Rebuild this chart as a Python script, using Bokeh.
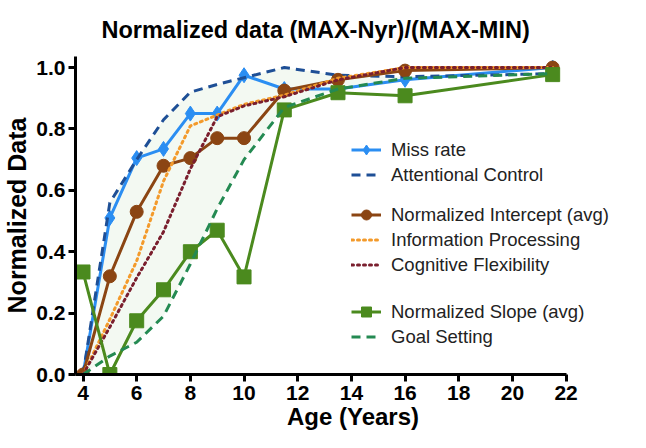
from bokeh.plotting import figure
from bokeh.models import Legend, LegendItem, FixedTicker, NumeralTickFormatter
from bokeh.embed import file_html
from bokeh.resources import INLINE

ages = [4, 5, 6, 7, 8, 9, 10, 11.5, 13.5, 16, 21.5]
miss_rate = [0.0, 0.51, 0.705, 0.735, 0.85, 0.85, 0.975, 0.93, 0.93, 0.96, 1.0]
attentional_control = [0.0, 0.56, 0.70, 0.83, 0.92, 0.945, 0.967, 1.0, 0.975, 0.97, 0.98]
norm_intercept = [0.0, 0.32, 0.53, 0.68, 0.705, 0.77, 0.77, 0.925, 0.96, 0.99, 1.0]
info_processing = [0.0, 0.18, 0.37, 0.63, 0.81, 0.845, 0.88, 0.91, 0.965, 1.0, 1.0]
cog_flexibility = [0.0, 0.155, 0.315, 0.465, 0.67, 0.84, 0.875, 0.905, 0.96, 1.0, 1.0]
norm_slope = [0.334, 0.0, 0.175, 0.276, 0.40, 0.47, 0.318, 0.862, 0.918, 0.908, 0.977]
goal_setting = [0.0, 0.06, 0.105, 0.19, 0.36, 0.54, 0.70, 0.87, 0.93, 0.965, 0.98]

x_ticks = [4, 6, 8, 10, 12, 14, 16, 18, 20, 22]
y_ticks = [0.0, 0.2, 0.4, 0.6, 0.8, 1.0]

FONT = "Liberation Sans"

p = figure(width=630, height=432, x_range=(3.72, 24.4), y_range=(0, 1.036),
           output_backend="svg", toolbar_location=None,
           min_border_left=75, min_border_right=0, min_border_top=56, min_border_bottom=56,
           title="Normalized data (MAX-Nyr)/(MAX-MIN)")
p.outline_line_color = None
p.xgrid.visible = False
p.ygrid.visible = False
p.background_fill_color = "white"

p.title.text_font = FONT
p.title.text_font_size = "23.5px"
p.title.text_font_style = "bold"
p.title.align = "left"
p.title.offset = 26
p.title.text_color = "black"
p.title.standoff = 28

# faint shaded band
lo = [min(a, b) for a, b in zip(attentional_control, goal_setting)]
p.varea(x=ages, y1=lo, y2=attentional_control, fill_color="#eaf4e8", fill_alpha=0.55)

r_miss_l = p.line(ages, miss_rate, line_color="#2b8ef2", line_width=3)
r_miss_m = p.scatter(ages, miss_rate, marker="diamond", size=15, fill_color="#2b8ef2", line_color="#2b8ef2")
r_att = p.line(ages, attentional_control, line_color="#1e4f96", line_width=3, line_dash="9 6")
r_int_l = p.line(ages, norm_intercept, line_color="#8b4513", line_width=3)
r_int_m = p.scatter(ages, norm_intercept, marker="circle", size=13, fill_color="#8b4513", line_color="#8b4513")
r_info = p.line(ages, info_processing, line_color="#f39a2b", line_width=3, line_dash="2 4", line_cap="round")
r_cog = p.line(ages, cog_flexibility, line_color="#7a1f2e", line_width=3, line_dash="2 4", line_cap="round")
r_sl_l = p.line(ages, norm_slope, line_color="#4b8a1e", line_width=3)
r_sl_m = p.scatter(ages, norm_slope, marker="square", size=14, fill_color="#4b8a1e", line_color="#4b8a1e")
r_goal = p.line(ages, goal_setting, line_color="#248a52", line_width=3, line_dash="9 6")

for ax in (p.xaxis[0], p.yaxis[0]):
    ax.axis_line_width = 3
    ax.axis_line_color = "black"
    ax.major_tick_line_width = 3
    ax.major_tick_line_color = "black"
    ax.major_tick_out = 7
    ax.major_tick_in = 0
    ax.minor_tick_line_color = None
    ax.major_label_text_font = FONT
    ax.major_label_text_font_style = "bold"
    ax.major_label_text_font_size = "21px"
    ax.major_label_text_color = "black"
    ax.axis_label_text_font = FONT
    ax.axis_label_text_font_style = "bold"
    ax.axis_label_text_color = "black"

p.xaxis.ticker = FixedTicker(ticks=x_ticks)
p.xaxis.bounds = (3.72, 22)
p.yaxis.ticker = FixedTicker(ticks=y_ticks)
p.yaxis.formatter = NumeralTickFormatter(format="0.0")
p.xaxis.axis_label = "Age (Years)"
p.yaxis.axis_label = "Normalized Data"
p.xaxis.axis_label_text_font_size = "24px"
p.yaxis.axis_label_text_font_size = "25px"
p.xaxis.major_label_standoff = 4
p.xaxis.axis_label_standoff = 0
p.xaxis.axis_label_text_line_height = 0.8
p.xaxis.major_label_text_line_height = 0.8
p.yaxis.major_label_standoff = 3
p.yaxis.axis_label_standoff = 2

def make_legend(items, loc):
    lg = Legend(items=items, location=loc, orientation="vertical")
    lg.background_fill_alpha = 0
    lg.border_line_color = None
    lg.padding = 0
    lg.margin = 0
    lg.spacing = 0
    lg.glyph_width = 30
    lg.glyph_height = 25
    lg.label_height = 25
    lg.label_standoff = 10
    lg.label_text_font = FONT
    lg.label_text_font_size = "18.5px"
    lg.label_text_color = "#222222"
    p.add_layout(lg, "center")

make_legend([LegendItem(label="Miss rate", renderers=[r_miss_l, r_miss_m]),
             LegendItem(label="Attentional Control", renderers=[r_att])], (276, 187))
make_legend([LegendItem(label="Normalized Intercept (avg)", renderers=[r_int_l, r_int_m]),
             LegendItem(label="Information Processing", renderers=[r_info]),
             LegendItem(label="Cognitive Flexibility", renderers=[r_cog])], (276, 97))
make_legend([LegendItem(label="Normalized Slope (avg)", renderers=[r_sl_l, r_sl_m]),
             LegendItem(label="Goal Setting", renderers=[r_goal])], (276, 25))

open("out.html", "w").write(file_html(p, INLINE))
